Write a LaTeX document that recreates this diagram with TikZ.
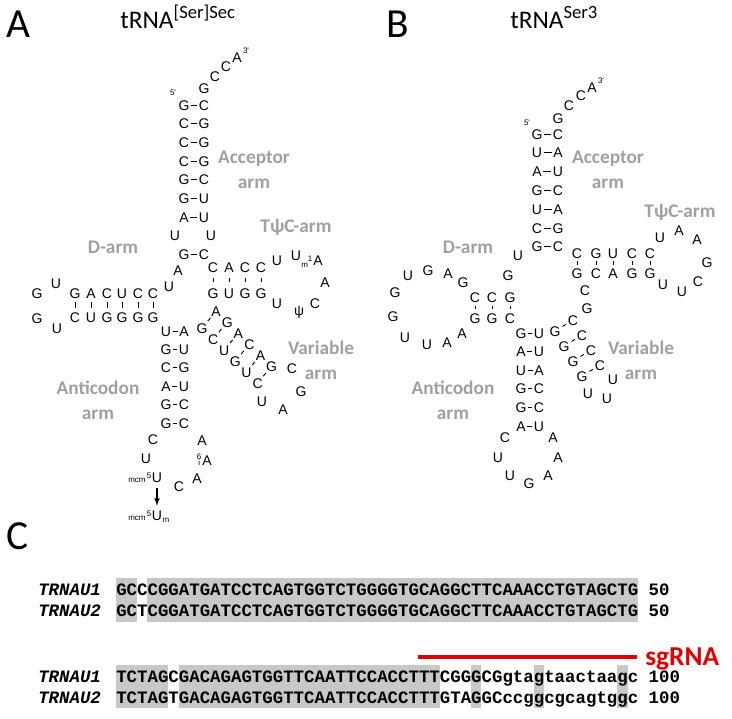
\documentclass[tikz,border=0pt]{standalone}
\usepackage{fontspec}
\setmainfont{Carlito}
\newfontfamily\ntfont{Liberation Sans}
\newfontfamily\seqfont{Liberation Mono}
\usetikzlibrary{arrows,calc}
\definecolor{ArmClr}{RGB}{160,160,160}
\definecolor{ShadeClr}{RGB}{200,200,200}
\definecolor{GuideClr}{RGB}{228,0,0}

\tikzset{
  nt/.style={font=\ntfont\fontsize{10.5}{10.5}\selectfont,inner sep=0pt,text height=7.5pt,text depth=0pt},
  modtxt/.style={font=\ntfont\fontsize{6}{4.5}\selectfont,inner sep=0pt},
  armlbl/.style={font=\bfseries\fontsize{14.5}{18.75}\selectfont,text=ArmClr,align=center,inner sep=0pt},
  bpH/.style={line width=.7pt,shorten >=.9pt,shorten <=.9pt},
  bpV/.style={line width=.7pt,shorten >=#1,shorten <=#1},
  bpV/.default=3pt,
  bpD/.style={line width=.7pt,shorten >=1.6pt,shorten <=1.6pt},
  arr/.style={-latex,line width=.9pt,shorten <=4.5pt,shorten >=3pt},
  panel/.style={font=\fontsize{31}{31}\selectfont,inner sep=0pt,anchor=base west},
  ttl/.style={font=\fontsize{19}{19}\selectfont,inner sep=0pt,anchor=base west},
  seqrow/.style={font=\seqfont\bfseries\fontsize{13.05}{13.05}\selectfont,inner sep=0pt,anchor=base west},
  seqname/.style={seqrow,font=\seqfont\bfseries\itshape\fontsize{13.05}{13.05}\selectfont},
}

\begin{document}
\begin{tikzpicture}[x=.75pt,y=-.75pt]
\useasboundingbox (0,0) rectangle (732,718);

%%%%%%%%%%%%%%%% Panel A: tRNA[Ser]Sec
\node[panel] (pA) at (6,37) {A};
\node[ttl] (tA) at (120,28) {tRNA\raisebox{7.5pt}{\fontsize{14}{14}\selectfont [Ser]Sec}};

% Acceptor stem.
\foreach \p/\q [count=\i] in {G/C,C/G,C/G,C/G,G/C,G/U,A/U}{
  \node[nt] (aaL\i) at (184,{86.3+18.7*\i}) {\p};
  \node[nt] (aaR\i) at (204,{86.3+18.7*\i}) {\q};
  \draw[bpH] (aaL\i) -- (aaR\i);
}
\node[nt] (aaU1) at (175,235) {U};
\node[nt] (aaU2) at (211,235) {U};
\node[nt] (aaL8) at (184,254) {G};
\node[nt] (aaR8) at (204,254) {C};
\draw[bpH] (aaL8) -- (aaR8);
\foreach \b/\x/\y [count=\i] in {G/204/88,C/215/76,C/226/66,A/237/57}
  \node[nt] (aaT\i) at (\x,\y) {\b};
\node[modtxt] (aa3) at (246,51) {3'};
\node[modtxt] (aa5) at (173,93) {5'};

% D-arm.
\node[nt] (adA) at (178,270) {A};
\node[nt] (adU) at (169,286) {U};
\foreach \p/\q/\x [count=\i] in {G/C/75,A/U/91,C/G/107,U/G/122,C/G/138,C/G/153}{
  \node[nt] (adT\i) at (\x,293) {\p};
  \node[nt] (adB\i) at (\x,317) {\q};
  \draw[bpV=3pt] (adT\i) -- (adB\i);
}
\foreach \b/\x/\y [count=\i] in {U/56/283,G/37/293,G/37/318,U/57/328}
  \node[nt] (adL\i) at (\x,\y) {\b};

% TpsiC-arm.
\foreach \p/\q/\x [count=\i] in {C/G/213,A/U/229,C/G/245,C/G/261}{
  \node[nt] (atT\i) at (\x,267) {\p};
  \node[nt] (atB\i) at (\x,293) {\q};
  \draw[bpV=4pt] (atT\i) -- (atB\i);
}
\foreach \b/\x/\y [count=\i] in {U/277/260,U/296/255,A/318/260,A/325/282,C/315/303,ψ/299/310,U/277/303}
  \node[nt] (atL\i) at (\x,\y) {\b};
\node[modtxt,anchor=base east] (atM) at ([xshift=-.3pt]atL3.base west) {\raisebox{-1.8pt}{m}\raisebox{2.8pt}{1}};

% Variable arm.
\foreach \p/\q [count=\i] in {G/A,C/G,U/A,G/C,U/A,C/G}{
  \node[nt] (avL\i) at ({191+11.1*\i},{317+11*\i}) {\p};
  \node[nt] (avR\i) at ({205+11.1*\i},{300+11*\i}) {\q};
  \draw[bpD] (avL\i) -- (avR\i);
}
\foreach \b/\x/\y [count=\i] in {U/262/401,A/283/409,G/301/391,C/292/368}
  \node[nt] (avO\i) at (\x,\y) {\b};

% Anticodon arm.
\foreach \p/\q [count=\i] in {U/A,G/U,C/G,A/U,G/C,G/C}{
  \node[nt] (acL\i) at (166,{312.6+18.4*\i}) {\p};
  \node[nt] (acR\i) at (184,{312.6+18.4*\i}) {\q};
  \draw[bpH] (acL\i) -- (acR\i);
}
\foreach \b/\x/\y [count=\i] in {C/153/439,U/146/458,U/157/477,C/179/486,A/197/478,A/207/460,A/202/440}
  \node[nt] (acO\i) at (\x,\y) {\b};
\node[modtxt,anchor=base east] (acM) at (acO3.base west) {mcm\,\raisebox{2.8pt}{5}};
\node[modtxt,align=center,anchor=east] (acI) at ([xshift=-.3pt]acO6.west) {6\\i};
\node[nt] (acUm) at (157,515) {U};
\node[modtxt,anchor=base east] (acUmM) at (acUm.base west) {mcm\,\raisebox{2.8pt}{5}};
\node[modtxt,anchor=base west] (acUmS) at (acUm.base east) {\raisebox{-1.8pt}{m}};
\draw[arr] (acO3.south) -- (acO3.south |- acUm.north);

% Arm names.
\node[armlbl] (laAcc) at (254,170) {Acceptor\\arm};
\node[armlbl] (laT) at (296,227) {TψC-arm};
\node[armlbl] (laD) at (113,247) {D-arm};
\node[armlbl] (laVar) at (321,360) {Variable\\arm};
\node[armlbl] (laAnti) at (98,400) {Anticodon\\arm};

%%%%%%%%%%%%%%%% Panel B: tRNASer3
\node[panel] (pB) at (386,37) {B};
\node[ttl] (tB) at (510,28) {tRNA\raisebox{7.5pt}{\fontsize{14}{14}\selectfont Ser3}};

% Acceptor stem.
\foreach \p/\q [count=\i] in {G/C,U/A,A/U,G/C,U/A,C/G,G/C}{
  \node[nt] (baL\i) at (537,{115.2+18.8*\i}) {\p};
  \node[nt] (baR\i) at (558,{115.2+18.8*\i}) {\q};
  \draw[bpH] (baL\i) -- (baR\i);
}
\foreach \b/\x/\y [count=\i] in {G/558/118,C/569/105,C/581/95,A/592/87}
  \node[nt] (baT\i) at (\x,\y) {\b};
\node[modtxt] (ba3) at (601,81) {3'};
\node[modtxt] (ba5) at (527,123) {5'};

% D-arm.
\node[nt] (bdU) at (518,255) {U};
\node[nt] (bdG) at (508,275) {G};
\foreach \p/\q/\x [count=\i] in {C/G/475,C/G/492,G/C/510}{
  \node[nt] (bdT\i) at (\x,297) {\p};
  \node[nt] (bdB\i) at (\x,318) {\q};
  \draw[bpV=2.6pt] (bdT\i) -- (bdB\i);
}
\foreach \b/\x/\y [count=\i] in {G/463/282,A/448/273,G/428/270,U/408/275,G/395/292,G/393/316,U/405/337,U/427/344,A/447/342,A/462/333}
  \node[nt] (bdL\i) at (\x,\y) {\b};

% TpsiC-arm.
\foreach \p/\q/\x [count=\i] in {C/G/577,G/C/596,U/A/613,C/G/632,C/G/650}{
  \node[nt] (btT\i) at (\x,253) {\p};
  \node[nt] (btB\i) at (\x,273) {\q};
  \draw[bpV=2.2pt] (btT\i) -- (btB\i);
}
\foreach \b/\x/\y [count=\i] in {U/663/284,U/682/291,C/698/281,G/707/262,A/697/239,A/679/230,U/660/237}
  \node[nt] (btL\i) at (\x,\y) {\b};

% Variable arm.
\node[nt] (bvC) at (585,290) {C};
\node[nt] (bvG) at (587,308) {G};
\foreach \p/\q [count=\i] in {G/C,G/C,G/C,G/C}{
  \node[nt] (bvL\i) at ({546+9*\i},{316+15*\i}) {\p};
  \node[nt] (bvR\i) at ({564+9*\i},{305+15*\i}) {\q};
  \draw[bpD] (bvL\i) -- (bvR\i);
}
\foreach \b/\x/\y [count=\i] in {U/588/393,U/607/398,U/613/379}
  \node[nt] (bvO\i) at (\x,\y) {\b};

% Anticodon arm.
\foreach \p/\q [count=\i] in {G/U,A/U,U/A,G/C,G/C,A/U}{
  \node[nt] (bcL\i) at (521,{314.4+18.6*\i}) {\p};
  \node[nt] (bcR\i) at (539,{314.4+18.6*\i}) {\q};
  \draw[bpH] (bcL\i) -- (bcR\i);
}
\foreach \b/\x/\y [count=\i] in {C/505/437,U/498/457,U/510/475,G/529/483,A/548/475,A/558/457,A/553/437}
  \node[nt] (bcO\i) at (\x,\y) {\b};

% Arm names.
\node[armlbl] (lbAcc) at (608,170) {Acceptor\\arm};
\node[armlbl] (lbT) at (680,212) {TψC-arm};
\node[armlbl] (lbD) at (468,247) {D-arm};
\node[armlbl] (lbVar) at (641,360) {Variable\\arm};
\node[armlbl] (lbAnti) at (453,400) {Anticodon\\arm};

%%%%%%%%%%%%%%%% Panel C: alignment
\node[panel] (pC) at (6,549) {C};

% Shade the identical columns.
\foreach \a/\b in {1/2,4/50}
  \fill[ShadeClr] ({116+(\a-1)*10.44},578) rectangle ({116+\b*10.44},622);
\foreach \a/\b in {1/5,7/31,35/35,41/41,49/49}
  \fill[ShadeClr] ({116+(\a-1)*10.44},665) rectangle ({116+\b*10.44},708);

\node[seqname] (n1) at (38,595) {TRNAU1};
\node[seqname] (n2) at (38,616) {TRNAU2};
\node[seqname] (n3) at (38,682) {TRNAU1};
\node[seqname] (n4) at (38,703) {TRNAU2};
\node[seqrow] (s1) at (116,595) {GCCCGGATGATCCTCAGTGGTCTGGGGTGCAGGCTTCAAACCTGTAGCTG 50};
\node[seqrow] (s2) at (116,616) {GCTCGGATGATCCTCAGTGGTCTGGGGTGCAGGCTTCAAACCTGTAGCTG 50};
\node[seqrow] (s3) at (116,682) {TCTAGCGACAGAGTGGTTCAATTCCACCTTTCGGGCGgtagtaactaagc 100};
\node[seqrow] (s4) at (116,703) {TCTAGTGACAGAGTGGTTCAATTCCACCTTTGTAGGCccggcgcagtggc 100};

% Guide RNA target.
\coordinate (sgL) at (418,657);
\coordinate (sgR) at (637,657);
\draw[GuideClr,line width=3pt] (sgL) -- (sgR);
\node[font=\bfseries\fontsize{20.5}{20.5}\selectfont,text=GuideClr,inner sep=0pt,anchor=base west] (sg) at (645,665) {sgRNA};

\end{tikzpicture}
\end{document}
